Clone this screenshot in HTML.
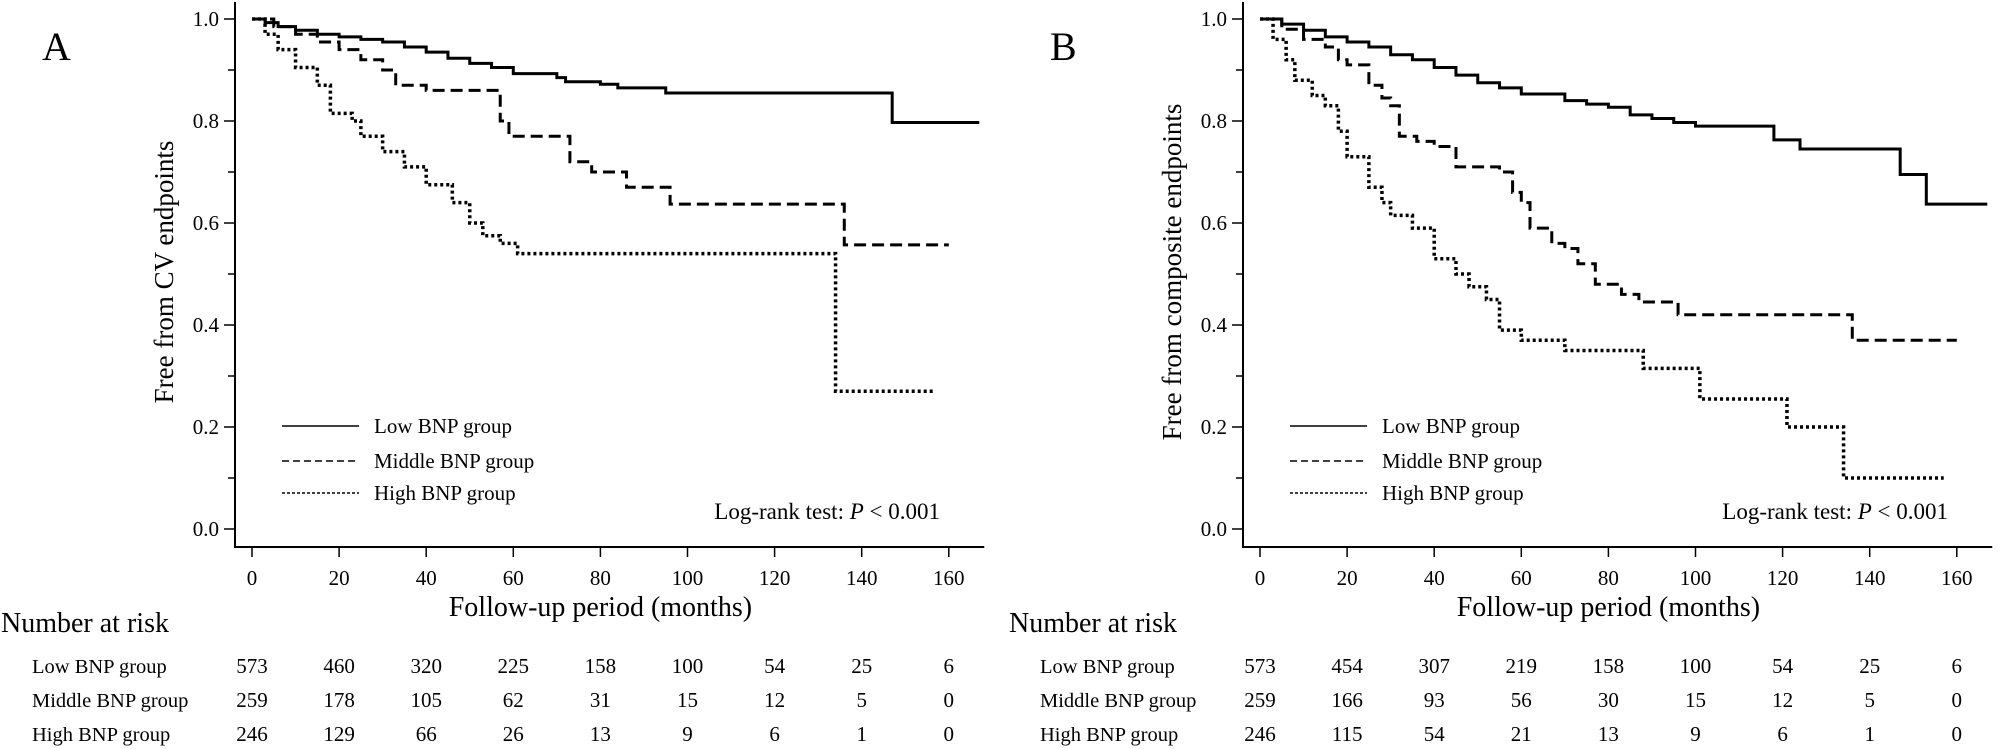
<!DOCTYPE html>
<html><head><meta charset="utf-8">
<style>
html,body{margin:0;padding:0;background:#fff;}
svg{display:block;font-family:"Liberation Serif",serif;}
</style></head>
<body>
<svg id="s" width="2008" height="749" viewBox="0 0 2008 749" xmlns="http://www.w3.org/2000/svg">
<rect width="2008" height="749" fill="#fff"/>
</svg>
<script>
const S=document.getElementById('s');
const NS='http://www.w3.org/2000/svg';
function el(t,a,txt){const e=document.createElementNS(NS,t);for(const k in a)e.setAttribute(k,a[k]);if(txt!==undefined)e.textContent=txt;S.appendChild(e);return e;}
function panel(off,letter,ylab,curves,risk){
  const ax=235+off, x0=252+off, xs=87.1/20, y1=19, yz=529, ys=(yz-y1);
  const X=m=>x0+m*xs, Y=v=>yz-v*ys;
  el('text',{x:42+off,y:60,'font-size':40},letter);
  el('line',{x1:ax,y1:2,x2:ax,y2:548,stroke:'#000','stroke-width':2});
  el('line',{x1:ax-1,y1:547,x2:X(167)+5,y2:547,stroke:'#000','stroke-width':2});
  for(let i=0;i<=10;i++){const v=i/10,y=Y(v);
    el('line',{x1:ax-(i%2?7:11),y1:y,x2:ax,y2:y,stroke:'#000','stroke-width':1.5});
    if(i%2==0) el('text',{x:ax-16,y:y+7,'font-size':21,'text-anchor':'end'},v.toFixed(1));}
  for(let m=0;m<=160;m+=20){el('line',{x1:X(m),y1:547,x2:X(m),y2:557,stroke:'#000','stroke-width':1.5});
    el('text',{x:X(m),y:585,'font-size':21,'text-anchor':'middle'},m);}
  el('text',{x:X(80),y:616,'font-size':28,'text-anchor':'middle'},'Follow-up period (months)');
  el('text',{x:0,y:0,'font-size':27,'text-anchor':'middle',transform:`translate(${off+173},272) rotate(-90)`},ylab);
  const styles=[{w:3,d:''},{w:3,d:'12 6'},{w:3.5,d:'3 3'}];
  curves.forEach((c,i)=>{let p=`M${X(c[0][0])},${Y(c[0][1])}`;
    for(let j=1;j<c.length;j++){p+=` H${X(c[j][0])} V${Y(c[j][1])}`;}
    const a={d:p,fill:'none',stroke:'#000','stroke-width':styles[i].w};
    if(styles[i].d)a['stroke-dasharray']=styles[i].d;el('path',a);});
  const ly=[426,461,493], ln=['Low BNP group','Middle BNP group','High BNP group'];
  const ld=['','7 4','3 2'];
  ly.forEach((y,i)=>{const a={x1:282+off,y1:y,x2:359+off,y2:y,stroke:'#000','stroke-width':1.5};if(ld[i])a['stroke-dasharray']=ld[i];el('line',a);
    el('text',{x:374+off,y:y+7,'font-size':21},ln[i]);});
  const t=el('text',{x:940+off,y:519,'font-size':23,'text-anchor':'end'});
  t.innerHTML='Log-rank test: <tspan font-style="italic">P</tspan> &lt; 0.001';
  el('text',{x:off+1,y:632,'font-size':28},'Number at risk');
  const ry=[673,707,741];
  risk.forEach((r,i)=>{el('text',{x:off+32,y:ry[i],'font-size':20.5},ln[i]);
    r.forEach((n,k)=>el('text',{x:X(k*20),y:ry[i],'font-size':21,'text-anchor':'middle'},n));});
}
panel(0,'A','Free from CV endpoints',[
 [[0,1],[3,0.993],[6,0.985],[10,0.978],[15,0.97],[20,0.965],[25,0.96],[30,0.955],[35,0.945],[40,0.935],[45,0.923],[50,0.913],[55,0.905],[60,0.893],[70,0.885],[72,0.877],[80,0.872],[84,0.865],[95,0.855],[147,0.855],[147,0.797],[167,0.797]],
 [[0,1],[5,0.985],[10,0.97],[15,0.955],[20,0.94],[25,0.92],[30,0.9],[33,0.87],[40,0.86],[56,0.86],[57,0.8],[59,0.77],[72,0.77],[73,0.72],[78,0.70],[86,0.67],[96,0.637],[136,0.637],[136,0.557],[160,0.557]],
 [[0,1],[3,0.97],[6,0.94],[10,0.905],[15,0.87],[18,0.815],[23,0.8],[25,0.77],[30,0.74],[35,0.71],[40,0.675],[46,0.64],[50,0.6],[53,0.575],[57,0.56],[61,0.54],[134,0.54],[134,0.27],[157,0.27]]
],[[573,460,320,225,158,100,54,25,6],[259,178,105,62,31,15,12,5,0],[246,129,66,26,13,9,6,1,0]]);
panel(1008,'B','Free from composite endpoints',[
 [[0,1],[5,0.99],[10,0.978],[15,0.965],[20,0.955],[25,0.945],[30,0.93],[35,0.92],[40,0.905],[45,0.89],[50,0.875],[55,0.865],[60,0.853],[70,0.84],[75,0.833],[80,0.827],[85,0.812],[90,0.805],[95,0.797],[100,0.79],[118,0.79],[118,0.763],[124,0.745],[147,0.745],[147,0.695],[153,0.695],[153,0.637],[167,0.637]],
 [[0,1],[5,0.98],[10,0.96],[15,0.945],[18,0.92],[20,0.91],[25,0.87],[28,0.845],[30,0.83],[32,0.77],[36,0.76],[40,0.75],[45,0.71],[55,0.70],[58,0.66],[60,0.64],[62,0.59],[67,0.56],[70,0.55],[73,0.52],[77,0.48],[83,0.46],[87,0.445],[96,0.42],[136,0.42],[136,0.37],[160,0.37]],
 [[0,1],[3,0.96],[6,0.92],[8,0.88],[12,0.85],[15,0.83],[18,0.78],[20,0.73],[25,0.67],[28,0.64],[30,0.615],[35,0.59],[40,0.53],[45,0.50],[48,0.475],[52,0.45],[55,0.39],[60,0.37],[70,0.35],[88,0.35],[88,0.315],[100,0.315],[101,0.255],[121,0.255],[121,0.20],[133,0.20],[134,0.10],[157,0.10]]
],[[573,454,307,219,158,100,54,25,6],[259,166,93,56,30,15,12,5,0],[246,115,54,21,13,9,6,1,0]]);
</script>
</body></html>
